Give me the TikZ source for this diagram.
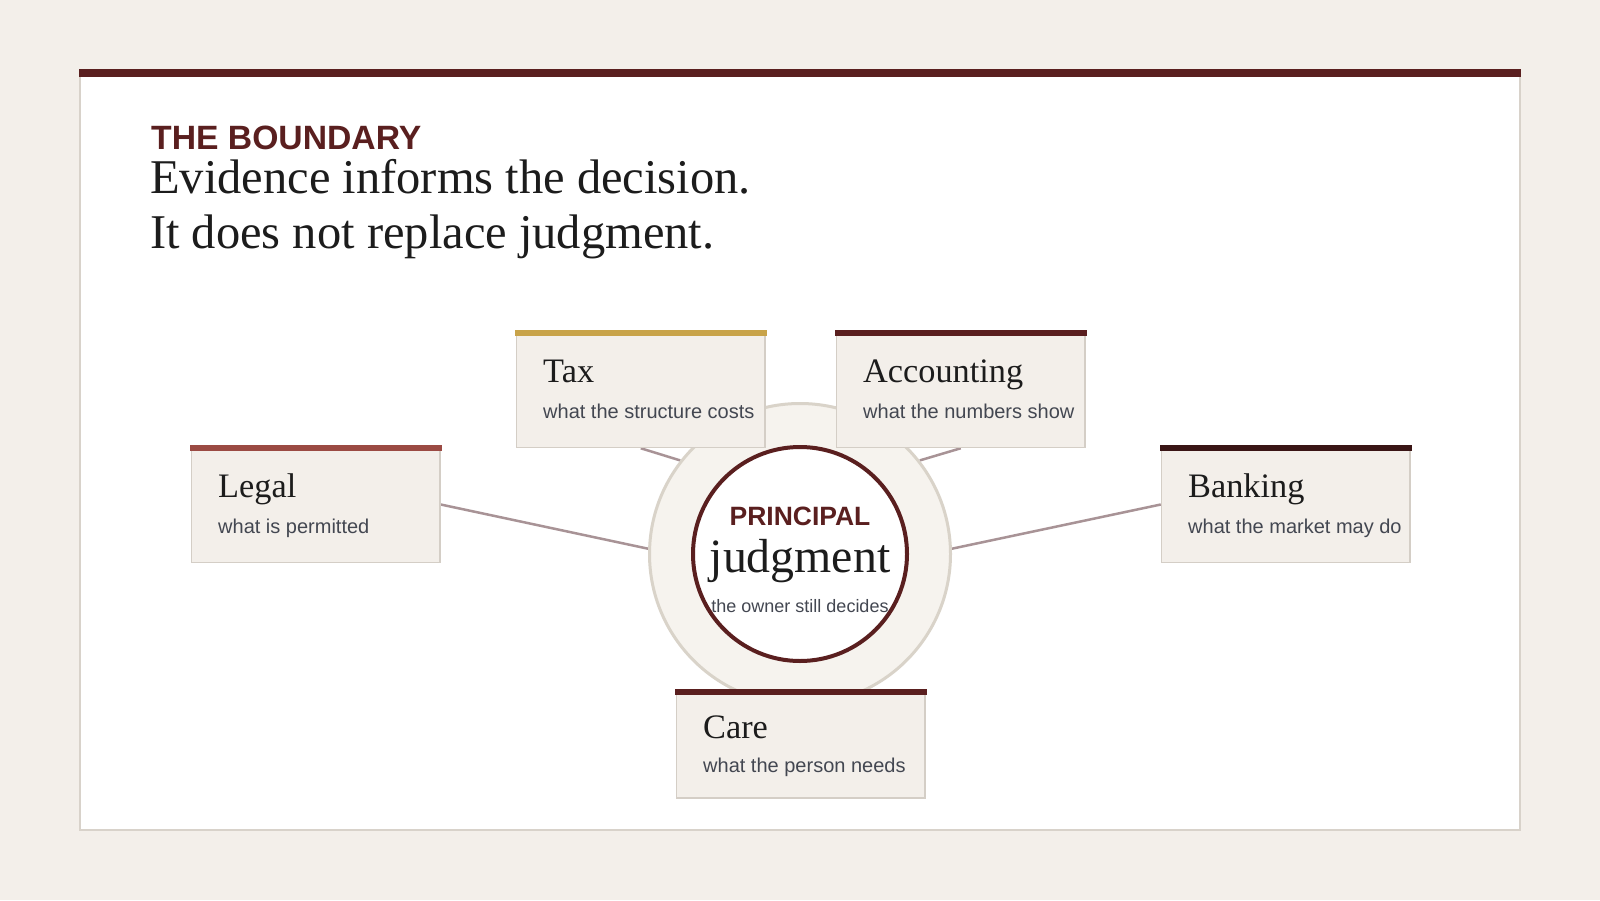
\documentclass[tikz,border=0pt]{standalone}
\usepackage{fontspec}
\setmainfont{Liberation Serif}
\setsansfont{Liberation Sans}
\usetikzlibrary{calc}
\definecolor{pagebg}{HTML}{F3EFEA}
\definecolor{maroon}{HTML}{5A1F1F}
\definecolor{cardline}{HTML}{D8D2CA}
\definecolor{boxfill}{HTML}{F3EFEA}
\definecolor{boxline}{HTML}{D4CEC6}
\definecolor{ringfill}{HTML}{F6F3EE}
\definecolor{ringline}{HTML}{D9D3C9}
\definecolor{linkcol}{HTML}{A89396}
\definecolor{goldbar}{HTML}{C8A349}
\definecolor{legalbar}{HTML}{9B4A43}
\definecolor{bankbar}{HTML}{3A1515}
\definecolor{inkcol}{HTML}{1C1C1C}
\definecolor{subcol}{HTML}{434751}
\pgfdeclarelayer{back}
\pgfdeclarelayer{mid}
\pgfsetlayers{back,mid,main}
\begin{document}
\begin{tikzpicture}[x=1pt,y=-1pt,
  infobox/.style={draw=boxline, line width=1.5pt, fill=boxfill, minimum width=248.5pt, inner sep=0pt, anchor=north west},
  boxtitle/.style={anchor=base west, inner sep=0pt, text=inkcol, font=\fontsize{34.3}{40}\selectfont},
  boxsub/.style={anchor=base west, inner sep=0pt, text=subcol, font=\sffamily\fontsize{20}{24}\selectfont},
  link/.style={draw=linkcol, line width=2.5pt},
  ring/.style={circle, draw=ringline, line width=3pt, fill=ringfill, minimum size=301pt, inner sep=0pt},
  core/.style={circle, draw=maroon, line width=4pt, fill=white, minimum size=214pt, inner sep=0pt}]
\useasboundingbox (0,0) rectangle (1600,900);
\begin{pgfonlayer}{back}
  \fill[pagebg] (0,0) rectangle (1600,900);
  \draw[draw=cardline, line width=1.5pt, fill=white] (80,70) rectangle (1520,830);
  \fill[maroon] (79.25,69) rectangle (1520.75,77);
\end{pgfonlayer}

% header
\node[anchor=base west, inner sep=0pt, text=maroon, font=\sffamily\bfseries\fontsize{33.7}{40}\selectfont] (kicker) at (151,149) {THE BOUNDARY};
\node[anchor=base west, inner sep=0pt, text=inkcol, font=\fontsize{48.5}{55}\selectfont] (head1) at (150,193) {Evidence informs the decision.};
\node[anchor=base west, inner sep=0pt, text=inkcol, font=\fontsize{48.5}{55}\selectfont] (head2) at (150,248) {It does not replace judgment.};

% hub
\node[ring] (hub) at (800,554) {};
\node[core] (core) at (800,554) {};
\node[anchor=base, inner sep=0pt, text=maroon, font=\sffamily\bfseries\fontsize{26.5}{30}\selectfont] (princ) at (800,525) {PRINCIPAL};
\node[anchor=base, inner sep=0pt, text=inkcol, font=\fontsize{47.8}{50}\selectfont] (judg) at (800,572) {judgment};
\node[anchor=base, inner sep=0pt, text=subcol, font=\sffamily\fontsize{18}{22}\selectfont] (owner) at (800,612) {the owner still decides};

% boxes
\node[infobox, minimum height=116pt] (tax) at (515.75,330.75) {};
\node[infobox, minimum height=116pt] (acct) at (835.75,330.75) {};
\node[infobox, minimum height=116pt] (legal) at (190.75,445.75) {};
\node[infobox, minimum height=116pt] (bank) at (1160.75,445.75) {};
\node[infobox, minimum height=107.5pt] (care) at (675.75,689.75) {};

\fill[goldbar] ($(tax.north west)+(-0.75,-0.75)$) rectangle ($(tax.north east)+(0.75,5.25)$);
\fill[maroon] ($(acct.north west)+(-0.75,-0.75)$) rectangle ($(acct.north east)+(0.75,5.25)$);
\fill[legalbar] ($(legal.north west)+(-0.75,-0.75)$) rectangle ($(legal.north east)+(0.75,5.25)$);
\fill[bankbar] ($(bank.north west)+(-0.75,-0.75)$) rectangle ($(bank.north east)+(0.75,5.25)$);
\fill[maroon] ($(care.north west)+(-0.75,-0.75)$) rectangle ($(care.north east)+(0.75,5.25)$);

\node[boxtitle] (taxT) at ($(tax.north west)+(27.25,51.25)$) {Tax};
\node[boxsub] (taxS) at ($(tax.north west)+(27.25,87.25)$) {what the structure costs};
\node[boxtitle] (acctT) at ($(acct.north west)+(27.25,51.25)$) {Accounting};
\node[boxsub] (acctS) at ($(acct.north west)+(27.25,87.25)$) {what the numbers show};
\node[boxtitle] (legalT) at ($(legal.north west)+(27.25,51.25)$) {Legal};
\node[boxsub] (legalS) at ($(legal.north west)+(27.25,87.25)$) {what is permitted};
\node[boxtitle] (bankT) at ($(bank.north west)+(27.25,51.25)$) {Banking};
\node[boxsub] (bankS) at ($(bank.north west)+(27.25,87.25)$) {what the market may do};
\node[boxtitle] (careT) at ($(care.north west)+(27.25,48.25)$) {Care};
\node[boxsub] (careS) at ($(care.north west)+(27.25,82.25)$) {what the person needs};

% connectors
\begin{pgfonlayer}{mid}
  \draw[link] (tax.south) -- (hub.142);
  \draw[link] (acct.south) -- (hub.38);
  \draw[link] (legal.east) -- (hub.178);
  \draw[link] (bank.west) -- (hub.2);
\end{pgfonlayer}
\end{tikzpicture}
\end{document}
